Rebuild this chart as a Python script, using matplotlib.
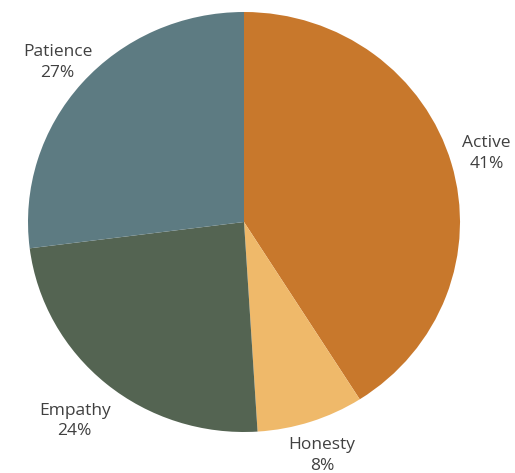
import matplotlib
matplotlib.use('Agg')
import matplotlib.pyplot as plt
import numpy as np

labels = ['Active', 'Honesty', 'Empathy', 'Patience']
values = [41, 8, 24, 27]
colors = ['#C8782C', '#EFB96A', '#546452', '#5D7B82']
label_dist = [1.17, 1.17, 1.23, 1.15]

fig = plt.figure(figsize=(5.15, 4.73), dpi=100)
ax = fig.add_axes([0, 0, 1, 1])
wedges, _ = ax.pie(values, colors=colors, startangle=90, counterclock=False,
                   radius=1, wedgeprops={'linewidth': 0})

for w, lab, v, d in zip(wedges, labels, values, label_dist):
    ang = np.deg2rad((w.theta1 + w.theta2) / 2)
    ax.text(d * np.cos(ang), d * np.sin(ang), f'{lab}\n{v}%', ha='center', va='center',
            fontsize=12.5, family='Open Sans', color='#404040', linespacing=1.4)

# reference pie is a bit wider than tall
ax.set_aspect('auto')
ax.set_xlim(-244 / 216, 271 / 216)
ax.set_ylim(-251 / 210, 222 / 210)
ax.axis('off')
fig.savefig('out.png', dpi=100, facecolor='w')
